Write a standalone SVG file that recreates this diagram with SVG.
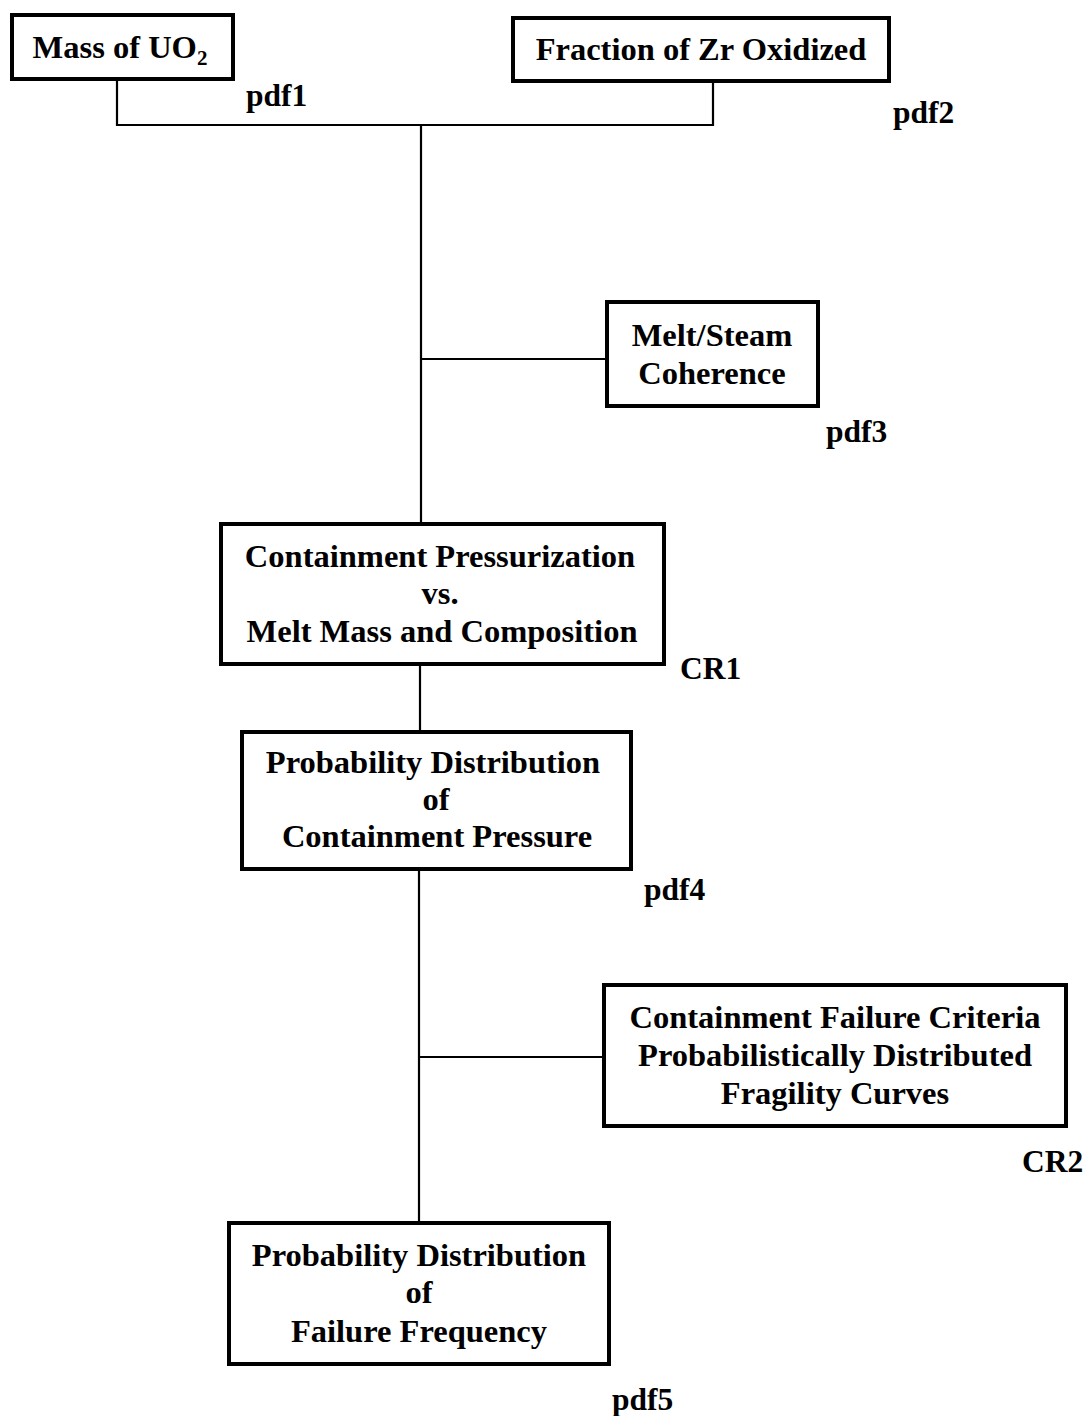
<svg xmlns="http://www.w3.org/2000/svg" width="1087" height="1416" viewBox="0 0 1087 1416">
  <style>
    .box { fill: #fff; stroke: #000; stroke-width: 4; }
    .wire { fill: none; stroke: #000; stroke-width: 2.2; }
    .lbl { font-family: "Liberation Serif", "Times New Roman", serif; font-weight: bold; font-size: 32.5px; fill: #000; text-anchor: middle; }
    .tag { font-family: "Liberation Serif", "Times New Roman", serif; font-weight: bold; font-size: 31.5px; fill: #000; }
  </style>
  <rect width="1087" height="1416" fill="#fff"/>

  <!-- connectors -->
  <g id="connectors">
    <polyline class="wire" points="117,80 117,125 713,125 713,81"/>
    <line class="wire" x1="421" y1="125" x2="421" y2="523"/>
    <line class="wire" x1="421" y1="359" x2="607" y2="359"/>
    <line class="wire" x1="420" y1="664" x2="420" y2="731"/>
    <line class="wire" x1="419" y1="869" x2="419" y2="1222"/>
    <line class="wire" x1="419" y1="1057" x2="604" y2="1057"/>
  </g>

  <!-- nodes -->
  <g id="mass-uo2">
    <rect class="box" x="12" y="15" width="221" height="64"/>
    <text class="lbl" x="120" y="58">Mass of UO<tspan font-size="21" dy="7">2</tspan></text>
    <text class="tag" x="246" y="106">pdf1</text>
  </g>

  <g id="zr-oxidized">
    <rect class="box" x="513" y="18" width="376" height="63"/>
    <text class="lbl" x="701" y="60">Fraction of Zr Oxidized</text>
    <text class="tag" x="893" y="123">pdf2</text>
  </g>

  <g id="melt-steam">
    <rect class="box" x="607" y="302" width="211" height="104"/>
    <text class="lbl" x="712" y="346">Melt/Steam</text>
    <text class="lbl" x="712" y="384">Coherence</text>
    <text class="tag" x="826" y="442">pdf3</text>
  </g>

  <g id="pressurization">
    <rect class="box" x="221" y="524" width="443" height="140"/>
    <text class="lbl" x="440" y="567">Containment Pressurization</text>
    <text class="lbl" x="440" y="604">vs.</text>
    <text class="lbl" x="442" y="642">Melt Mass and Composition</text>
    <text class="tag" x="680" y="679">CR1</text>
  </g>

  <g id="pressure-pdf">
    <rect class="box" x="242" y="732" width="389" height="137"/>
    <text class="lbl" x="433" y="773">Probability Distribution</text>
    <text class="lbl" x="436" y="810">of</text>
    <text class="lbl" x="437" y="847">Containment Pressure</text>
    <text class="tag" x="644" y="900">pdf4</text>
  </g>

  <g id="failure-criteria">
    <rect class="box" x="604" y="985" width="462" height="141"/>
    <text class="lbl" x="835" y="1028">Containment Failure Criteria</text>
    <text class="lbl" x="835" y="1066">Probabilistically Distributed</text>
    <text class="lbl" x="835" y="1104">Fragility Curves</text>
    <text class="tag" x="1022" y="1172">CR2</text>
  </g>

  <g id="frequency-pdf">
    <rect class="box" x="229" y="1223" width="380" height="141"/>
    <text class="lbl" x="419" y="1266">Probability Distribution</text>
    <text class="lbl" x="419" y="1303">of</text>
    <text class="lbl" x="419" y="1342">Failure Frequency</text>
    <text class="tag" x="612" y="1410">pdf5</text>
  </g>
</svg>
